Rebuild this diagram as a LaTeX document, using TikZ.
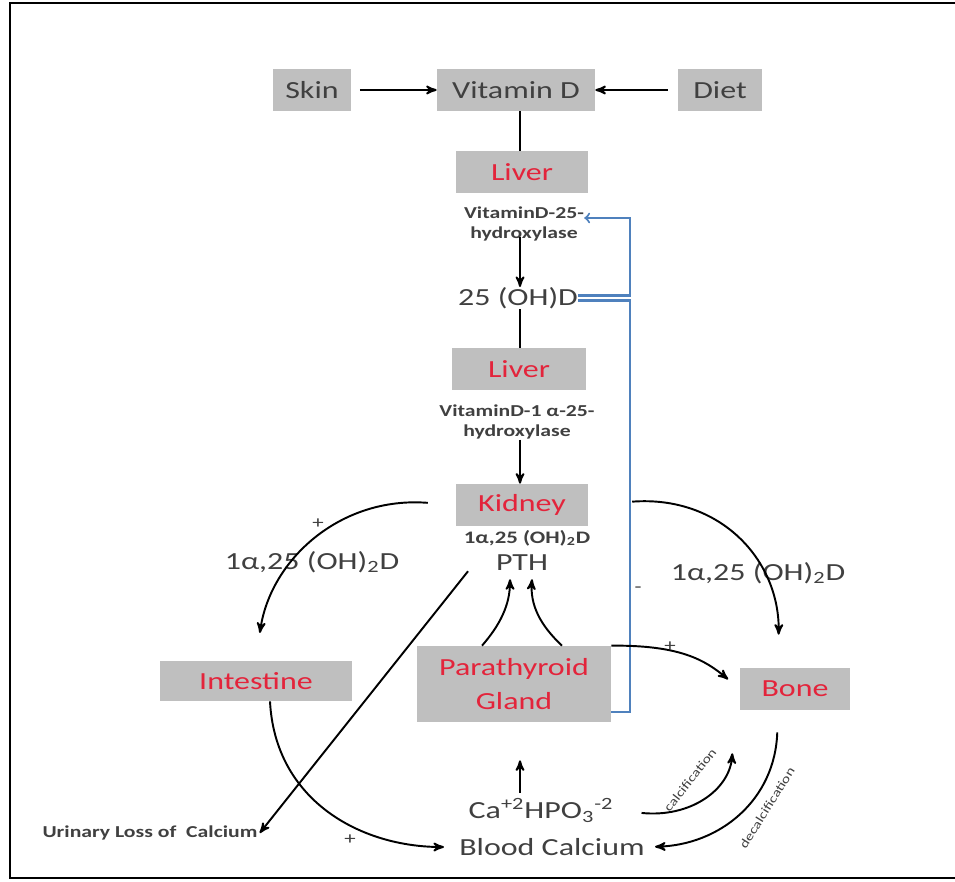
\documentclass[tikz,border=0pt]{standalone}
\usepackage{fontspec}
\setmainfont{Carlito}[FakeStretch=1.3]
\usetikzlibrary{arrows}
\usetikzlibrary{calc}
\definecolor{boxgray}{HTML}{BFBFBF}
\definecolor{organred}{HTML}{E3243B}
\definecolor{ink}{HTML}{404040}
\definecolor{fbblue}{HTML}{4F81BD}

\begin{document}
\begin{tikzpicture}[x=0.02cm,y=-0.02cm,
  box/.style={fill=boxgray,inner sep=0pt,minimum height=0.84cm,text=ink,font=\fontsize{14}{19}\selectfont},
  organ/.style={box,text=organred},
  small/.style={text=ink,font=\bfseries\fontsize{9.5}{11.5}\selectfont,align=center,inner sep=0pt},
  big/.style={text=ink,font=\fontsize{14}{16}\selectfont,inner sep=0pt},
  sign/.style={text=ink,font=\fontsize{10}{12}\selectfont,inner sep=0pt},
  tiny/.style={text=ink,font=\fontsize{7}{8}\selectfont,inner sep=0pt},
  flow/.style={line width=1.1pt,-stealth'},
  link/.style={line width=1.3pt},
  fb/.style={fbblue,line width=1.2pt}]
\useasboundingbox (0,0) rectangle (955,881);
\draw[line width=1.2pt] (955,3) -- (10,3) -- (10,878) -- (955,878);

% vitamin D sources
\node[box,minimum width=1.58cm] (skin) at (312,90) {Skin};
\node[box,minimum width=3.16cm] (vitd) at (516,90) {Vitamin D};
\node[box,minimum width=1.68cm] (diet) at (720,90) {Diet};

\draw[flow,shorten <=0.16cm] (skin) -- (vitd);
\draw[flow,shorten <=0.2cm] (diet) -- (vitd);

% liver and kidney steps
\node[organ,minimum width=2.64cm] (liver1) at (522,172) {Liver};
\node[small] (hyd1) at (524,224) {VitaminD-25-\\hydroxylase};
\node[big] (ohd) at (518,298) {25 (OH)D};
\node[organ,minimum width=2.68cm] (liver2) at (519,369) {Liver};
\node[small] (hyd2) at (517,422) {VitaminD-1 α-25-\\hydroxylase};
\node[organ,minimum width=2.64cm] (kidney) at (522,505) {Kidney};
\node[small,font=\bfseries\fontsize{10}{12}\selectfont] (kidout) at (527,538) {1α,25 (OH)\textsubscript{2}D};
\node[big] (pth) at (522,563) {PTH};

\draw[link] ([xshift=0.08cm]vitd.south) -- ([xshift=0.08cm]vitd.south |- liver1.north);
\draw[flow,shorten <=-0.1cm] ([xshift=-0.08cm]hyd1.south) -- ([xshift=-0.08cm]hyd1.south |- ohd.north);
\draw[link] ([xshift=0.04cm]ohd.south) -- ([xshift=0.04cm]ohd.south |- liver2.north);
\draw[flow] ([xshift=0.06cm]hyd2.south) -- ([xshift=0.06cm]hyd2.south |- kidney.north);

% targets
\node[organ,minimum width=3.84cm,minimum height=0.8cm] (intestine) at (256,681) {Intestine};
\node[organ,minimum width=3.88cm,minimum height=1.52cm,align=center] (para) at (514,684) {Parathyroid\\Gland};
\node[organ,minimum width=2.2cm] (bone) at (795,689) {Bone};
\node[big] (vitl) at (312,562) {1α,25 (OH)\textsubscript{2}D};
\node[big] (vitr) at (758,573) {1α,25 (OH)\textsubscript{2}D};
\node[sign] (plusint) at (318,524) {+};
\node[sign] (plusbone) at (670,647) {+};
\node[sign] (plusblood) at (350,840) {+};
\node[sign] (minus) at (638,590) {-};

% feedback
\coordinate (fbup) at (630,218);
\coordinate (fbdown) at (630,712);
\draw[fb,-to] ([yshift=0.05cm]ohd.east) -| (fbup) -- (hyd1.east |- fbup);
\draw[fb] ([yshift=-0.05cm]ohd.east) -| (fbdown) -- (para.east |- fbdown);

\draw[flow,shorten <=0.56cm,shorten >=0.56cm] (kidney.west) .. controls (340,496) and (270,560) .. (intestine.north);
\draw[flow,shorten <=0.88cm,shorten >=0.66cm] (kidney.east) .. controls (720,495) and (780,560) .. ([xshift=-0.34cm]bone.north);
\draw[flow] ([xshift=-0.64cm]para.north) .. controls (500,625) and (510,605) .. ([xshift=-0.24cm,yshift=-0.16cm]pth.south);
\draw[flow] ([xshift=0.96cm]para.north) .. controls (540,625) and (530,605) .. ([xshift=0.2cm,yshift=-0.16cm]pth.south);
\draw[flow,shorten >=0.3cm] (para.north east) .. controls (680,645) and (705,660) .. (bone.west);

% blood calcium
\node[big] (caphos) at (541,810) {Ca\textsuperscript{+2}HPO\textsubscript{3}\textsuperscript{-2}};
\node[big] (blood) at (552,847) {Blood Calcium};
\node[small] (urine) at (150,833) {Urinary Loss of\ \ Calcium};

\draw[flow,shorten >=0.76cm,shorten <=0.1cm] ([xshift=0.12cm]caphos.north -| para.south) -- ([xshift=0.12cm]para.south);
\draw[flow,shorten >=0.3cm] ([xshift=0.28cm]intestine.south) .. controls (275,800) and (360,847) .. (blood.west);
\draw[flow] ([xshift=-1.08cm]pth.south) -- ([xshift=0.04cm]urine.east);
\draw[flow,shorten <=0.56cm,shorten >=0.86cm] (caphos.east) .. controls (690,818) and (730,790) .. ([xshift=-1.2cm]bone.south);
\draw[flow,shorten <=0.44cm,shorten >=0.2cm] ([xshift=-0.34cm]bone.south) .. controls (775,800) and (720,845) .. (blood.east);
\node[tiny,rotate=52] (calclab) at (690,780) {calcification};
\node[tiny,rotate=58] (decalclab) at (767,808) {decalcification};
\end{tikzpicture}
\end{document}
